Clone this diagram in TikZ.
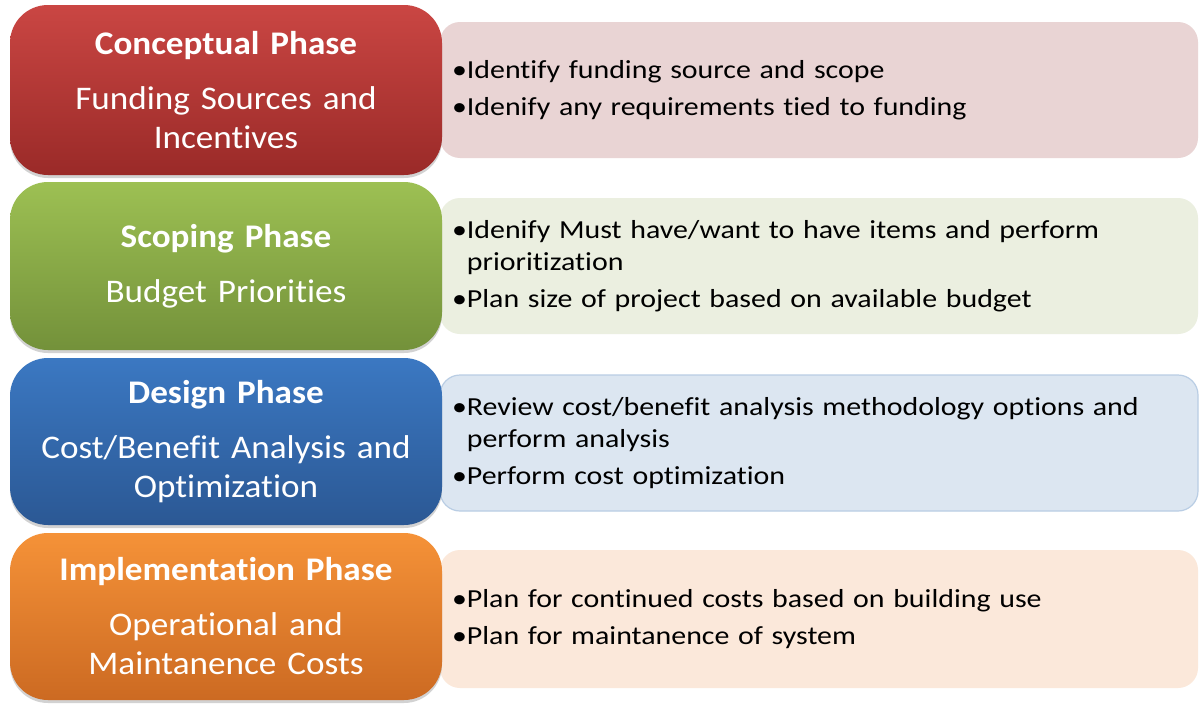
\documentclass[tikz,border=0pt]{standalone}
\usepackage{fontspec}
\setmainfont{Carlito}[Ligatures=NoCommon]
\newfontfamily\leftfont{Carlito}[FakeStretch=1.065,Ligatures=NoCommon]
\newfontfamily\rightfont{Carlito}[FakeStretch=1.15,Ligatures=NoCommon]
\usetikzlibrary{shadows}
\definecolor{redtop}{HTML}{CA4643}
\definecolor{redbot}{HTML}{9A2A28}
\definecolor{grntop}{HTML}{9DC053}
\definecolor{grnbot}{HTML}{73913A}
\definecolor{blutop}{HTML}{3B78C2}
\definecolor{blubot}{HTML}{2B5894}
\definecolor{orgtop}{HTML}{F59238}
\definecolor{orgbot}{HTML}{CC6A22}
\definecolor{redlt}{HTML}{E9D4D4}
\definecolor{grnlt}{HTML}{EBEFE0}
\definecolor{blult}{HTML}{DCE6F1}
\definecolor{bluln}{HTML}{B9CDE4}
\definecolor{orglt}{HTML}{FBE8DA}
\newcommand{\bul}{•}
\begin{document}
\begin{tikzpicture}[x=1pt,y=-1pt,
  rbox/.style={rounded corners=20pt, minimum width=758pt, minimum height=136pt,
    text width=734pt, inner xsep=12pt, inner ysep=0pt, align=left,
    font=\rightfont\fontsize{26}{32}\selectfont, text=black},
  lbox/.style={rounded corners=38pt, minimum width=432pt, minimum height=168pt,
    text width=426pt, inner xsep=3pt, inner ysep=0pt, align=center,
    font=\leftfont\fontsize{33}{39}\selectfont, text=white,
    drop shadow={shadow xshift=0pt, shadow yshift=-3pt, opacity=0.35}}]
\useasboundingbox (0,0) rectangle (1199,704);
\fill[white] (0,0) rectangle (1199,704);

% right description boxes
\node[rbox, fill=redlt] (d1) at (819,90)
  {\bul Identify funding source and scope\\[5pt]
   \bul Idenify any requirements tied to funding};
\node[rbox, fill=grnlt] (d2) at (819,266)
  {\bul Idenify Must have/want to have items and perform\\
   \phantom{\bul}prioritization\\[5pt]
   \bul Plan size of project based on available budget};
\node[rbox, fill=blult, draw=bluln, line width=1.2pt] (d3) at (819,443)
  {\bul Review cost/benefit analysis methodology options and\\
   \phantom{\bul}perform analysis\\[5pt]
   \bul Perform cost optimization};
\node[rbox, fill=orglt, minimum height=138pt] (d4) at (819,619)
  {\bul Plan for continued costs based on building use\\[5pt]
   \bul Plan for maintanence of system};

% left phase boxes
\node[lbox, top color=redtop, bottom color=redbot, minimum height=170pt] (p1) at (226,90)
  {\textbf{Conceptual Phase}\\[16pt] Funding Sources and\\ Incentives};
\node[lbox, top color=grntop, bottom color=grnbot] (p2) at (226,266)
  {\textbf{Scoping Phase}\\[16pt] Budget Priorities};
\node[lbox, top color=blutop, bottom color=blubot, minimum height=167pt] (p3) at (226,441.5)
  {\textbf{Design Phase}\\[16pt] Cost/Benefit Analysis and\\ Optimization};
\node[lbox, top color=orgtop, bottom color=orgbot, minimum height=167pt] (p4) at (226,616.5)
  {\textbf{Implementation Phase}\\[16pt] Operational and\\ Maintanence Costs};
\end{tikzpicture}
\end{document}
